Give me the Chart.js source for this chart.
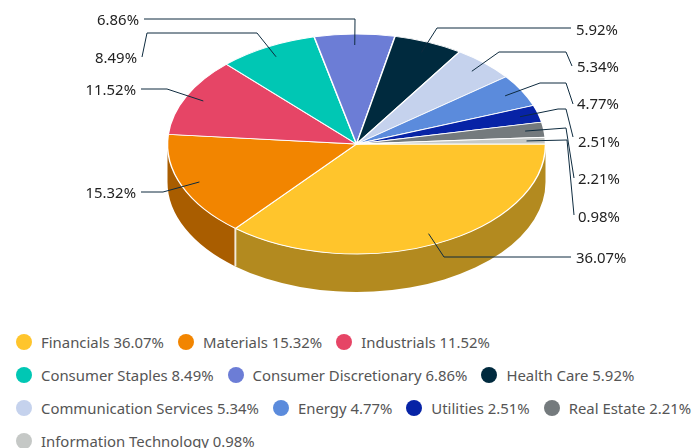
<!DOCTYPE html>
<html>
<head>
<meta charset="utf-8">
<script src="https://cdn.jsdelivr.net/npm/chart.js@4"></script>
<style>
  html, body { margin: 0; height: 100%; overflow: hidden; background: #fff; }
  body { position: relative; width: 692px; height: 448px; font-family: "Noto Sans", sans-serif; }
  canvas { position: absolute; left: 0; top: 0; }
  #legend { position: absolute; left: 16px; top: 325px; width: 676px; display: flex; flex-wrap: wrap; column-gap: 14px; }
  .item { display: flex; align-items: center; height: 33px; font-size: 14.9px; color: #555; white-space: nowrap; }
  .dot { width: 16px; height: 16px; border-radius: 50%; margin-right: 9px; }
</style>
</head>
<body>
<canvas id="chart" width="692" height="325"></canvas>
<div id="legend"></div>
<script>
const categories = ['Financials', 'Materials', 'Industrials', 'Consumer Staples', 'Consumer Discretionary',
  'Health Care', 'Communication Services', 'Energy', 'Utilities', 'Real Estate', 'Information Technology'];
const weights = [36.07, 15.32, 11.52, 8.49, 6.86, 5.92, 5.34, 4.77, 2.51, 2.21, 0.98];
const colors = ['#ffc52c', '#f28500', '#e64566', '#00c7b4', '#6c7dd6', '#002a3e',
  '#c5d2ed', '#5b8bdc', '#0723a6', '#747a7d', '#c5c8c6'];
const sideColors = ['#b38a1f', '#a95d00'];

// tilt of the fake 3d pie
const PIE_X = 356.5, PIE_Y = 144, RADIUS = 189, TILT = 0.582, DEPTH = 38;

// label routing: elbow points, then text position and alignment
const leaders = [
  { via: [[444, 257], [571, 257]], text: [576, 259, 'left'] },
  { via: [[163, 192], [141, 192]], text: [136, 194, 'right'] },
  { via: [[167, 89], [141, 89]], text: [136, 91, 'right'] },
  { via: [[257, 33], [147, 33], [142, 57]], text: [137, 59, 'right'] },
  { via: [[355, 19], [144, 19]], text: [139, 21, 'right'] },
  { via: [[437, 28], [571, 28]], text: [576, 31, 'left'] },
  { via: [[499, 52], [566, 52], [572, 66]], text: [577, 68, 'left'] },
  { via: [[540, 83], [566, 83], [573, 104]], text: [577, 105, 'left'] },
  { via: [[558, 109], [566, 109], [573, 137]], text: [578, 143, 'left'] },
  { via: [[566, 128], [574, 178]], text: [578, 180, 'left'] },
  { via: [[567, 140], [574, 215]], text: [578, 218, 'left'] }
];

const pie3d = {
  id: 'pie3d',
  beforeDatasetsDraw(chart) {
    const ctx = chart.ctx;
    const arcs = chart.getDatasetMeta(0).data;

    // side wall, only the front half of the pie shows it
    arcs.forEach((arc, i) => {
      const a = Math.max(arc.startAngle, 0);
      const b = Math.min(arc.endAngle, Math.PI);
      if (a >= b) return;
      ctx.beginPath();
      ctx.ellipse(PIE_X, PIE_Y, RADIUS, RADIUS * TILT, 0, a, b);
      ctx.ellipse(PIE_X, PIE_Y + DEPTH, RADIUS, RADIUS * TILT, 0, b, a, true);
      ctx.closePath();
      ctx.fillStyle = sideColors[i];
      ctx.fill();
      if (a > 0) {
        const x = PIE_X + Math.cos(a) * RADIUS;
        const y = PIE_Y + Math.sin(a) * RADIUS * TILT;
        ctx.beginPath();
        ctx.moveTo(x, y);
        ctx.lineTo(x, y + DEPTH);
        ctx.strokeStyle = 'rgba(255,255,255,0.8)';
        ctx.lineWidth = 2;
        ctx.stroke();
      }
    });

    ctx.save();
    ctx.translate(PIE_X, PIE_Y);
    ctx.scale(1, TILT);
    ctx.translate(-arcs[0].x, -arcs[0].y);
  },
  afterDatasetsDraw(chart) {
    const ctx = chart.ctx;
    ctx.restore();

    ctx.font = '14.9px "Noto Sans"';
    ctx.textBaseline = 'middle';
    chart.getDatasetMeta(0).data.forEach((arc, i) => {
      const mid = (arc.startAngle + arc.endAngle) / 2;
      const route = leaders[i];
      ctx.beginPath();
      ctx.moveTo(PIE_X + Math.cos(mid) * RADIUS * 0.9, PIE_Y + Math.sin(mid) * RADIUS * 0.9 * TILT);
      route.via.forEach(p => ctx.lineTo(p[0], p[1]));
      ctx.strokeStyle = '#0e2b3f';
      ctx.lineWidth = 1;
      ctx.stroke();

      ctx.fillStyle = '#222';
      ctx.textAlign = route.text[2];
      ctx.fillText(weights[i].toFixed(2) + '%', route.text[0], route.text[1]);
    });
  }
};

new Chart(document.getElementById('chart'), {
  type: 'pie',
  data: {
    labels: categories,
    datasets: [{
      data: weights,
      backgroundColor: colors,
      borderColor: '#fff',
      borderWidth: 1.5,
      radius: RADIUS,
      clip: false
    }]
  },
  options: {
    responsive: false,
    animation: false,
    rotation: 90,
    plugins: { legend: { display: false }, tooltip: { enabled: false } }
  },
  plugins: [pie3d]
});

// html legend, the wrapping is easier to match than the canvas one
const legend = document.getElementById('legend');
categories.forEach((name, i) => {
  const item = document.createElement('div');
  item.className = 'item';
  const dot = document.createElement('span');
  dot.className = 'dot';
  dot.style.background = colors[i];
  item.appendChild(dot);
  item.appendChild(document.createTextNode(name + ' ' + weights[i].toFixed(2) + '%'));
  legend.appendChild(item);
});
</script>
</body>
</html>
